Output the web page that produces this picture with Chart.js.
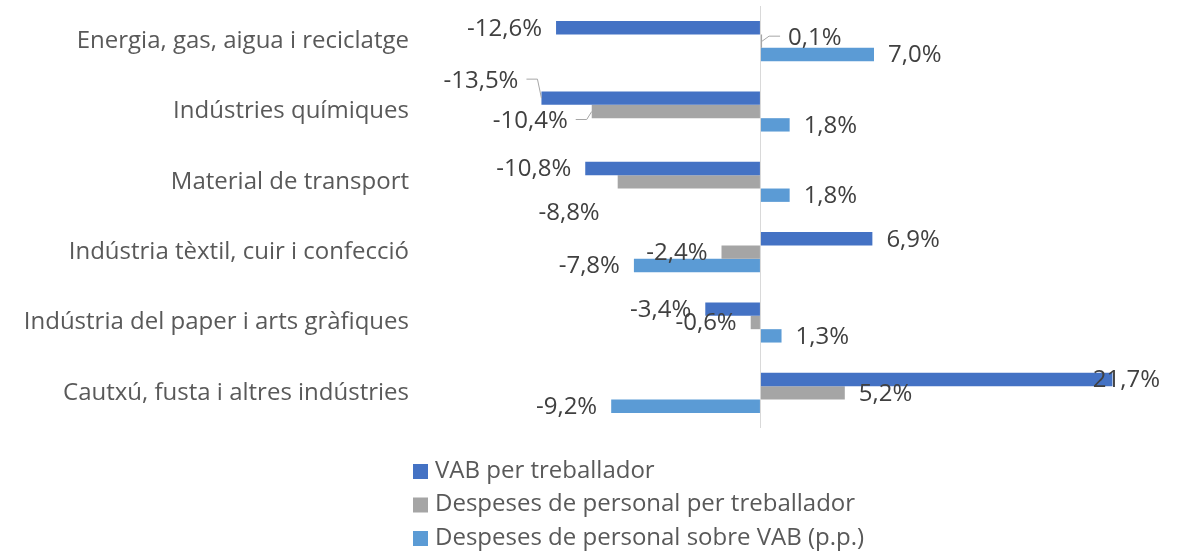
<!DOCTYPE html>
<html>
<head>
<meta charset="utf-8">
<script src="https://cdn.jsdelivr.net/npm/chart.js@4.4.0/dist/chart.umd.min.js"></script>
<style>
  html, body { margin: 0; padding: 0; background: #fff; }
</style>
</head>
<body>
<canvas id="sectorChart" width="1180" height="552"></canvas>
<script>
// Dades del gràfic
var categories = [
  'Energia, gas, aigua i reciclatge',
  'Indústries químiques',
  'Material de transport',
  'Indústria tèxtil, cuir i confecció',
  'Indústria del paper i arts gràfiques',
  'Cautxú, fusta i altres indústries'
];
var seriesNames = [
  'VAB per treballador',
  'Despeses de personal per treballador',
  'Despeses de personal sobre VAB (p.p.)'
];
var vabPerTreballador = [-12.6, -13.5, -10.8, 6.9, -3.4, 21.7];
var despesesPerTreballador = [0.1, -10.4, -8.8, -2.4, -0.6, 5.2];
var despesesSobreVab = [7.0, 1.8, 1.8, -7.8, 1.3, -9.2];
var axisMin = -20;
var axisMax = 25;

var colors = ['#4472C4', '#A5A5A5', '#5B9BD5'];
var fontFamily = '"Open Sans", "DejaVu Sans", sans-serif';
var fontSize = 24;

// Ajustos de posició d'algunes etiquetes (com a l'original)
var labelNudges = {
  '1-0': { dx: 12, dy: -4, leader: true },
  '0-1': { dx: -9, dy: -18, leader: true },
  '1-1': { dx: -10, dy: 9, leader: true },
  '1-2': { dx: -4, dy: 30 }
};

function fmt(v) {
  return v.toFixed(1).replace('.', ',') + '%';
}

// Etiquetes de dades
var dataLabels = {
  id: 'dataLabels',
  afterDatasetsDraw: function (chart) {
    var ctx = chart.ctx;
    var area = chart.chartArea;
    ctx.save();
    ctx.font = fontSize + 'px ' + fontFamily;
    ctx.textBaseline = 'middle';
    chart.data.datasets.forEach(function (ds, d) {
      chart.getDatasetMeta(d).data.forEach(function (bar, i) {
        var v = ds.data[i];
        var txt = fmt(v);
        var w = ctx.measureText(txt).width;
        var nudge = labelNudges[d + '-' + i] || { dx: 0, dy: 0 };
        var left;
        if (v >= 0) {
          left = bar.x + 14;
        } else {
          left = bar.x - 14 - w;
        }
        left += nudge.dx;
        if (left + w > area.right - 6) left = area.right - 6 - w;
        var y = bar.y + 1 + nudge.dy;
        if (nudge.leader) {
          ctx.strokeStyle = '#A6A6A6';
          ctx.lineWidth = 1;
          ctx.beginPath();
          if (v >= 0) {
            ctx.moveTo(left - 8, y - 2);
            ctx.lineTo(left - 19, y - 2);
          } else {
            ctx.moveTo(left + w + 8, y - 2);
            ctx.lineTo(left + w + 19, y - 2);
          }
          ctx.lineTo(bar.x, bar.y);
          ctx.stroke();
        }
        ctx.fillStyle = '#404040';
        ctx.textAlign = 'left';
        ctx.fillText(txt, left, y);
      });
    });
    ctx.restore();
  }
};

// Llegenda vertical a sota
var stackedLegend = {
  id: 'stackedLegend',
  afterDraw: function (chart) {
    var ctx = chart.ctx;
    ctx.save();
    ctx.font = fontSize + 'px ' + fontFamily;
    ctx.textBaseline = 'middle';
    ctx.textAlign = 'left';
    chart.data.datasets.forEach(function (ds, d) {
      var y = 471 + d * 33.5;
      ctx.fillStyle = ds.backgroundColor;
      ctx.fillRect(413, y - 7, 15, 15);
      ctx.fillStyle = '#595959';
      ctx.fillText(ds.label, 435, y);
    });
    ctx.restore();
  }
};

var ctx = document.getElementById('sectorChart').getContext('2d');
var chart = new Chart(ctx, {
  type: 'bar',
  data: {
    labels: categories,
    datasets: [
      { label: seriesNames[0], data: vabPerTreballador, backgroundColor: colors[0] },
      { label: seriesNames[1], data: despesesPerTreballador, backgroundColor: colors[1] },
      { label: seriesNames[2], data: despesesSobreVab, backgroundColor: colors[2] }
    ]
  },
  options: {
    indexAxis: 'y',
    responsive: false,
    animation: false,
    barPercentage: 1,
    categoryPercentage: 0.57,
    layout: { padding: { top: 6, right: 14, bottom: 124, left: 0 } },
    plugins: {
      legend: { display: false },
      tooltip: { enabled: false }
    },
    scales: {
      x: {
        min: axisMin,
        max: axisMax,
        ticks: { display: false, stepSize: 5 },
        border: { display: false },
        grid: {
          drawTicks: false,
          color: function (c) { return c.tick && c.tick.value === 0 ? '#D9D9D9' : 'rgba(0,0,0,0)'; },
          lineWidth: 1
        }
      },
      y: {
        border: { display: false },
        grid: { display: false, drawTicks: false },
        ticks: {
          padding: 27,
          color: '#595959',
          font: { family: fontFamily, size: fontSize }
        },
        afterFit: function (scale) {
          scale.width = 436;
          scale.paddingTop = 0;
          scale.paddingBottom = 0;
        }
      }
    }
  },
  plugins: [dataLabels, stackedLegend]
});
</script>
</body>
</html>
